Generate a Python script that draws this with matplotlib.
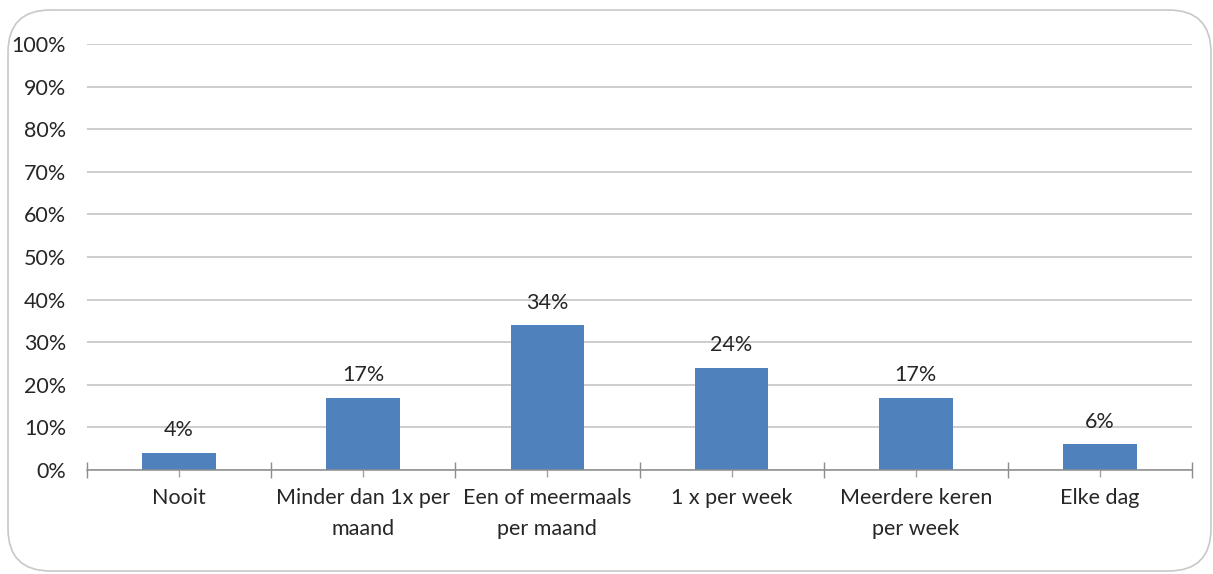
import matplotlib
matplotlib.use("Agg")
import matplotlib.pyplot as plt
from matplotlib.patches import FancyBboxPatch
import numpy as np

categories = ["Nooit", "Minder dan 1x per\nmaand", "Een of meermaals\nper maand",
              "1 x per week", "Meerdere keren\nper week", "Elke dag"]
values = [4, 17, 34, 24, 17, 6]
y_ticks = list(range(0, 101, 10))

plt.rcParams["font.family"] = ["Lato", "DejaVu Sans"]
TXT = "#262626"
FS = 15.5

fig = plt.figure(figsize=(12.13, 5.74), dpi=100)
fig.patch.set_facecolor("white")

# rounded chart border
frame = FancyBboxPatch((8 / 1213, 3 / 574), 1203 / 1213, 561 / 574,
                       boxstyle="round,pad=0,rounding_size=0.035",
                       transform=fig.transFigure, facecolor="none",
                       edgecolor="#c8c8c8", lw=1.2, mutation_aspect=1213 / 574,
                       zorder=-1)
fig.patches.append(frame)

ax = fig.add_axes([87 / 1213, 1 - 470 / 574, 1105 / 1213, 426 / 574])
ax.patch.set_alpha(0)
x = np.arange(len(categories))
bars = ax.bar(x, values, width=0.4, color="#4F81BD", zorder=3)

for xi, v in zip(x, values):
    ax.annotate(f"{v}%", (xi, v), xytext=(0, 9), textcoords="offset points",
                ha="center", va="bottom", fontsize=FS, color=TXT)

ax.set_xlim(-0.5, len(categories) - 0.5)
ax.set_ylim(0, 100)
ax.set_yticks(y_ticks)
ax.set_yticklabels([f"{t}%" for t in y_ticks], fontsize=FS, color=TXT)
ax.yaxis.grid(True, color="#c0c0c0", lw=1.1, zorder=0)
ax.set_axisbelow(True)

# category boundaries as ticks, labels at centres
ax.set_xticks(np.arange(-0.5, len(categories), 1.0))
ax.set_xticklabels([])
ax.set_xticks(x, minor=True)
ax.set_xticklabels(categories, minor=True, fontsize=FS, color=TXT,
                   linespacing=1.7)
ax.tick_params(axis="x", which="major", direction="inout", length=12,
               color="#8c8c8c", width=1)
ax.tick_params(axis="x", which="minor", direction="out", length=5,
               color="#a0a0a0", width=1, pad=8)
ax.tick_params(axis="y", length=0, pad=15)

for s in ["top", "right", "left"]:
    ax.spines[s].set_visible(False)
ax.spines["bottom"].set_color("#8c8c8c")
ax.spines["bottom"].set_linewidth(1.1)
ax.spines["bottom"].set_zorder(4)

fig.savefig("out.png", dpi=100)
